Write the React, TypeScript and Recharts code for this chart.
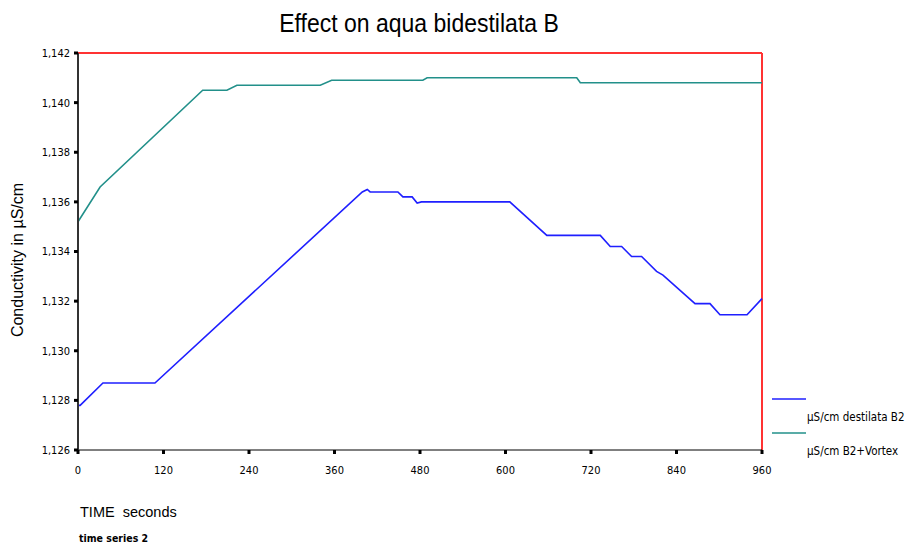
import React from 'react';
import { LineChart, Line, XAxis, YAxis, ReferenceLine } from 'recharts';

// time in seconds, conductivity in µS/cm
const destilataTimes = [0, 3, 35, 108, 399, 406, 410, 449, 456, 469, 476, 482, 606, 658, 733, 747, 763, 777, 791, 812, 821, 866, 887, 901, 939, 960];
const destilataValues = [1.1278, 1.1278, 1.1287, 1.1287, 1.1364, 1.1365, 1.1364, 1.1364, 1.1362, 1.1362, 1.13595, 1.1360, 1.1360, 1.13465, 1.13465, 1.1342, 1.1342, 1.1338, 1.1338, 1.1332, 1.13305, 1.1319, 1.1319, 1.13145, 1.13145, 1.1321];

const vortexTimes = [0, 31, 175, 209, 223, 340, 356, 484, 490, 700, 705, 960];
const vortexValues = [1.1352, 1.1366, 1.1405, 1.1405, 1.1407, 1.1407, 1.1409, 1.1409, 1.1410, 1.1410, 1.1408, 1.1408];

const yTicks = [1.126, 1.128, 1.13, 1.132, 1.134, 1.136, 1.138, 1.14, 1.142];
const xTicks = [0, 120, 240, 360, 480, 600, 720, 840, 960];

const destilata = destilataTimes.map((t, i) => ({ t, v: destilataValues[i] }));
const vortex = vortexTimes.map((t, i) => ({ t, v: vortexValues[i] }));

const BLUE = '#1f1fff';
const TEAL = '#22908a';
const narrow = '"DejaVu Sans Condensed", "Liberation Sans Narrow", sans-serif';
const tickFont = { fontFamily: narrow, fontSize: 11, fill: '#000' };

const App: React.FC = () => {
  return (
    <div style={{ position: 'absolute', left: 0, top: 0, width: 917, height: 552, background: '#fff', fontFamily: '"Liberation Sans", Arial, sans-serif' }}>
      <div style={{ position: 'absolute', left: 0, width: 838, top: 10, textAlign: 'center', fontSize: 23, color: '#000', transform: 'scaleY(1.12)' }}>
        Effect on aqua bidestilata B
      </div>
      <div style={{ position: 'absolute', left: 18, top: 260, transform: 'translate(-50%, -50%) rotate(-90deg)', whiteSpace: 'nowrap', fontSize: 16 }}>
        Conductivity in µS/cm
      </div>
      <div style={{ position: 'absolute', left: 80, top: 504, fontSize: 14.5 }}>TIME&nbsp; seconds</div>
      <div style={{ position: 'absolute', left: 79, top: 532, fontSize: 10.5, fontWeight: 700, fontFamily: narrow }}>time series 2</div>

      <LineChart width={917} height={552} margin={{ top: 53, right: 155, bottom: 72, left: 0 }} style={{ position: 'absolute', left: 0, top: 0 }}>
        <XAxis
          type="number"
          dataKey="t"
          domain={[0, 960]}
          ticks={xTicks}
          height={30}
          stroke="#000"
          tickSize={4}
          tickMargin={12}
          tickLine={{ stroke: '#000', strokeWidth: 3 }}
          tick={tickFont}
          allowDuplicatedCategory={false}
        />
        <YAxis
          type="number"
          domain={[1.126, 1.142]}
          ticks={yTicks}
          width={78}
          stroke="#333"
          strokeWidth={2}
          tickSize={4}
          tickMargin={4}
          tickLine={{ stroke: '#000', strokeWidth: 3 }}
          tick={tickFont}
          tickFormatter={(v: number) => v.toFixed(3).replace('.', ',')}
        />
        <ReferenceLine y={1.142} stroke="#ff3333" strokeWidth={2} />
        <ReferenceLine x={960} stroke="#ff3333" strokeWidth={2} />
        <Line data={destilata} dataKey="v" type="linear" stroke={BLUE} strokeWidth={1.6} dot={false} isAnimationActive={false} />
        <Line data={vortex} dataKey="v" type="linear" stroke={TEAL} strokeWidth={1.6} dot={false} isAnimationActive={false} />
      </LineChart>

      <svg style={{ position: 'absolute', left: 0, top: 0, pointerEvents: 'none' }} width={917} height={552}>
        <line x1={772} x2={806} y1={399} y2={399} stroke={BLUE} strokeWidth={1.6} />
        <line x1={772} x2={806} y1={433} y2={433} stroke={TEAL} strokeWidth={1.6} />
        <text x={807} y={421} fontSize={11.5} fontFamily={narrow}>µS/cm destilata B2</text>
        <text x={807} y={455} fontSize={11.5} fontFamily={narrow}>µS/cm B2+Vortex</text>
      </svg>
    </div>
  );
};

export default App;
